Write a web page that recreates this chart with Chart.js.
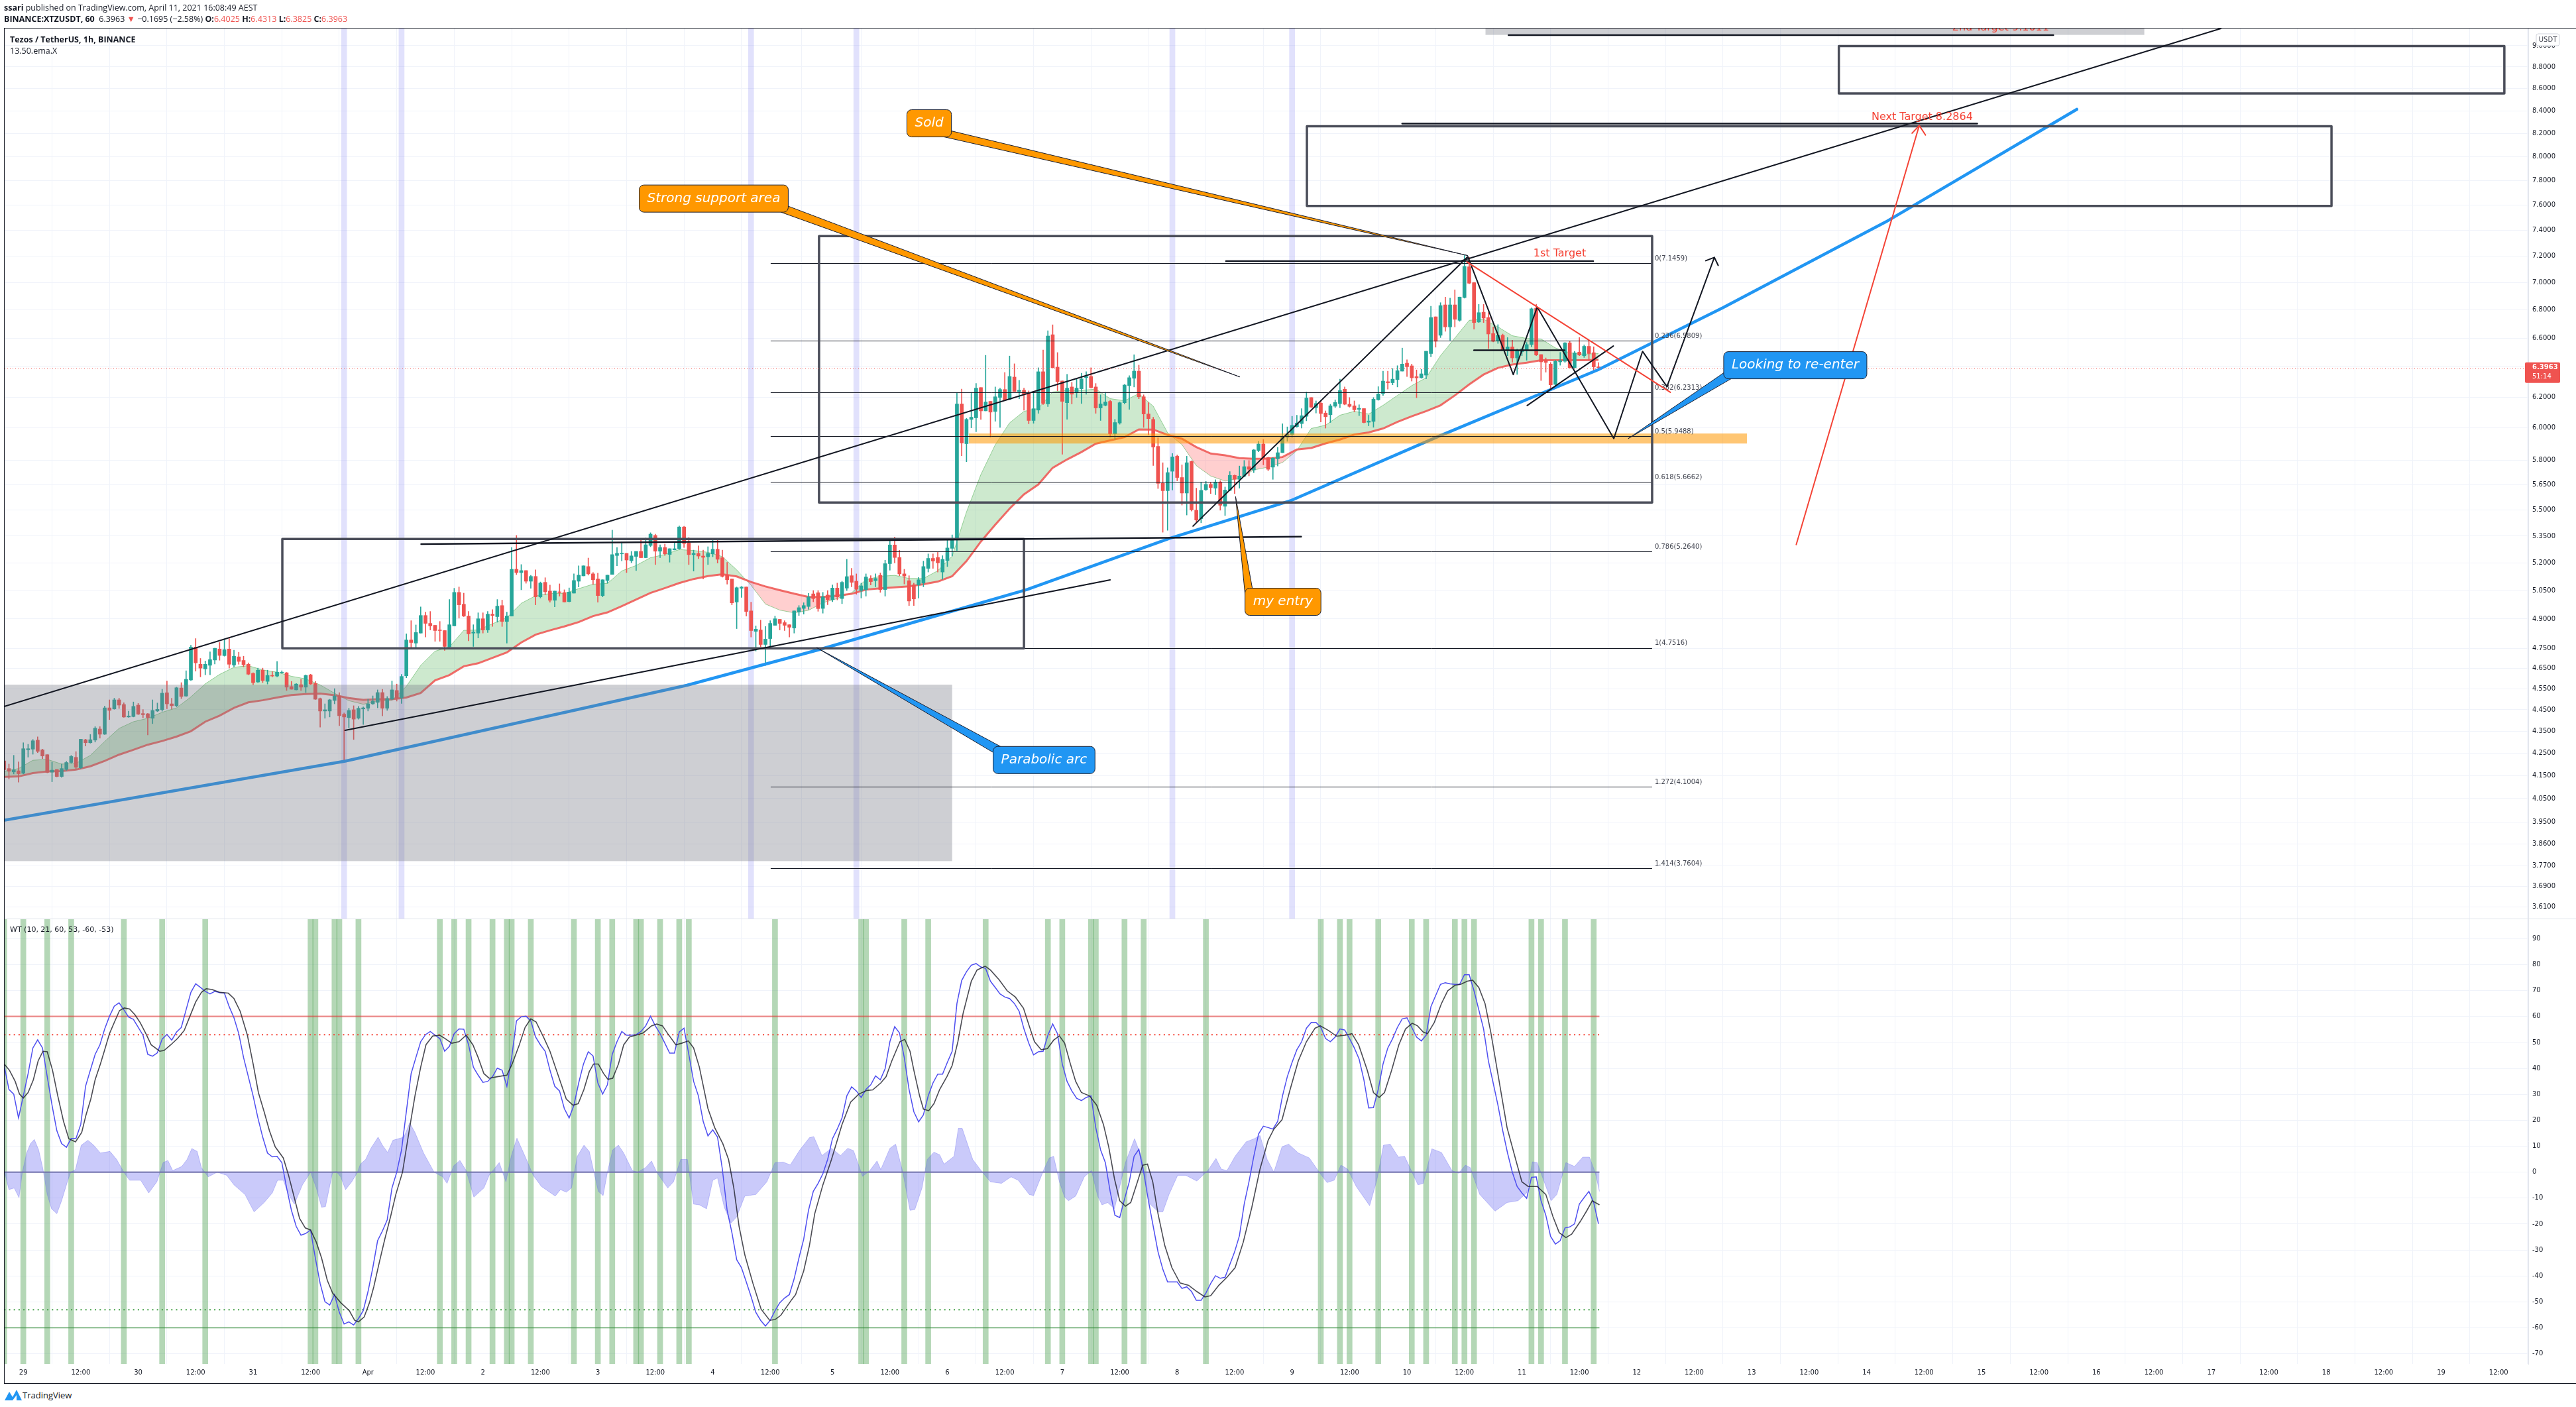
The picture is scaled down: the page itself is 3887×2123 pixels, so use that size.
<!DOCTYPE html>
<html>
<head>
<meta charset="utf-8">
<title>XTZUSDT</title>
<script src="https://cdn.jsdelivr.net/npm/chart.js@4"></script>
<style>
    html, body { margin: 0; padding: 0; background: #fff; }
    body { position: relative; width: 3887px; height: 2123px; overflow: hidden; font-family: "Open Sans", sans-serif; color: #131722; }
    canvas { position: absolute; left: 0; }
    #priceChart { top: 0; }
    #wtChart { top: 1386px; }
    #frame { position: absolute; left: 6px; top: 42px; width: 3880px; height: 2044px; border: 1px solid #131722; box-sizing: content-box; pointer-events: none; }
    .txt { position: absolute; white-space: pre; font-size: 12.5px; line-height: 16px; }
    .red { color: #ef5350; }
    b { font-weight: 700; }
</style>
</head>
<body>
<canvas id="priceChart" width="3887" height="1386"></canvas>
<canvas id="wtChart" width="3887" height="701"></canvas>
<div id="frame"></div>
<div class="txt" style="left:6px;top:4px"><b>ssari</b> published on TradingView.com, April 11, 2021 16:08:49 AEST</div>
<div class="txt" style="left:6px;top:21px"><b>BINANCE:XTZUSDT, 60</b>  6.3963 <span class="red">▼</span> −0.1695 (−2.58%) <b>O:</b><span class="red">6.4025</span> <b>H:</b><span class="red">6.4313</span> <b>L:</b><span class="red">6.3825</span> <b>C:</b><span class="red">6.3963</span></div>
<div class="txt" style="left:15px;top:52px"><b>Tezos / TetherUS, 1h, BINANCE</b></div>
<div class="txt" style="left:15px;top:69px">13.50.ema.X</div>
<svg style="position:absolute;left:7px;top:2096px" width="26" height="18" viewBox="0 0 26 18"><path d="M0 17 L7 4 L12 12 L18 1 L26 17 L18 17 L18 9 L12 17 Z" fill="#2196f3"/></svg>
<div class="txt" style="left:34px;top:2097px;font-size:13px">TradingView</div>

<script>
//Candles, one per hour, first one sits at bar -4 (bar 0 = 29 Mar 00:00)
const firstBar = -4;
const candleOpen = [
    4.215,4.181,4.166,4.171,4.160,4.265,4.268,4.309,4.265,4.243,
    4.165,4.177,4.146,4.177,4.208,4.231,4.184,4.311,4.297,4.309,
    4.360,4.336,4.459,4.454,4.497,4.475,4.416,4.418,4.472,4.432,
    4.431,4.410,4.444,4.450,4.531,4.478,4.469,4.554,4.515,4.593,
    4.756,4.670,4.647,4.665,4.691,4.746,4.713,4.746,4.666,4.707,
    4.689,4.670,4.625,4.583,4.641,4.586,4.615,4.612,4.628,4.628,
    4.561,4.545,4.570,4.558,4.618,4.576,4.503,4.444,4.444,4.494,
    4.516,4.429,4.413,4.450,4.410,4.454,4.457,4.478,4.485,4.532,
    4.457,4.500,4.542,4.506,4.613,4.792,4.776,4.827,4.918,4.877,
    4.867,4.843,4.840,4.757,4.864,5.040,4.977,4.915,4.827,4.827,
    4.901,4.843,4.925,4.912,4.970,4.887,4.915,5.165,5.147,5.158,
    5.100,5.126,5.016,5.094,5.047,4.998,5.043,5.039,4.991,5.036,
    5.100,5.129,5.180,5.140,5.112,5.023,5.104,5.137,5.241,5.250,
    5.253,5.212,5.236,5.264,5.229,5.297,5.354,5.265,5.286,5.247,
    5.272,5.279,5.402,5.312,5.246,5.253,5.238,5.234,5.250,5.276,
    5.229,5.133,5.112,4.989,5.062,5.069,4.942,4.836,4.843,4.769,
    4.799,4.867,4.898,4.881,4.870,4.853,4.936,4.955,4.965,5.032,
    5.038,4.955,5.026,5.001,5.063,5.007,5.063,5.130,5.100,5.050,
    5.055,5.115,5.103,5.132,5.055,5.196,5.300,5.230,5.140,5.103,
    5.080,5.080,5.090,5.170,5.225,5.230,5.150,5.213,5.281,5.331,
    6.155,5.901,6.055,6.065,6.263,6.110,6.172,6.106,6.198,6.250,
    6.184,6.333,6.237,6.245,6.228,6.048,6.115,6.369,6.155,6.624,
    6.400,6.307,6.163,6.267,6.228,6.255,6.329,6.337,6.267,6.129,
    6.146,6.172,5.963,6.032,6.163,6.276,6.325,6.373,6.202,6.090,
    6.055,5.884,5.658,5.614,5.731,5.823,5.693,5.600,5.791,5.499,
    5.450,5.620,5.652,5.629,5.666,5.522,5.616,5.706,5.682,5.701,
    5.759,5.739,5.858,5.899,5.815,5.756,5.807,5.845,5.941,5.958,
    6.009,6.028,6.075,6.197,6.131,6.160,6.096,6.085,6.140,6.157,
    6.252,6.153,6.143,6.120,6.125,6.037,6.042,6.182,6.223,6.302,
    6.295,6.316,6.373,6.427,6.409,6.336,6.328,6.346,6.493,6.751,
    6.620,6.837,6.679,6.837,6.726,6.890,7.119,7.000,6.714,6.784,
    6.746,6.632,6.581,6.620,6.516,6.539,6.463,6.505,6.516,6.555,
    6.813,6.486,6.447,6.421,6.284,6.436,6.440,6.567,6.397,6.503,
    6.478,6.543,6.499,6.4025
];
const candleHigh = [
    4.215,4.201,4.240,4.211,4.297,4.290,4.312,4.324,4.268,4.243,
    4.209,4.177,4.201,4.213,4.240,4.257,4.313,4.313,4.335,4.371,
    4.371,4.468,4.497,4.505,4.505,4.483,4.443,4.487,4.480,4.451,
    4.433,4.497,4.482,4.548,4.588,4.505,4.558,4.580,4.638,4.765,
    4.799,4.699,4.686,4.732,4.750,4.779,4.797,4.799,4.740,4.730,
    4.710,4.677,4.628,4.651,4.651,4.641,4.634,4.684,4.638,4.630,
    4.586,4.576,4.596,4.618,4.621,4.586,4.506,4.478,4.500,4.551,
    4.532,4.435,4.457,4.469,4.466,4.464,4.500,4.516,4.545,4.548,
    4.513,4.588,4.573,4.620,4.823,4.891,4.869,4.963,4.936,4.939,
    4.867,4.887,4.840,5.002,5.062,5.069,5.036,4.939,4.870,4.932,
    4.932,4.939,4.949,5.002,4.999,4.936,5.286,5.354,5.191,5.158,
    5.132,5.162,5.096,5.119,5.079,5.047,5.086,5.054,5.064,5.140,
    5.184,5.184,5.227,5.147,5.144,5.108,5.133,5.384,5.286,5.316,
    5.253,5.264,5.264,5.335,5.339,5.369,5.361,5.301,5.305,5.279,
    5.312,5.408,5.406,5.342,5.271,5.295,5.271,5.290,5.327,5.327,
    5.271,5.203,5.112,5.069,5.072,5.069,4.988,4.864,4.894,4.861,
    4.891,4.915,4.898,4.891,4.870,4.942,4.970,4.985,5.035,5.050,
    5.050,5.040,5.050,5.080,5.090,5.100,5.220,5.170,5.140,5.090,
    5.140,5.130,5.140,5.145,5.215,5.330,5.345,5.270,5.165,5.130,
    5.090,5.120,5.210,5.250,5.250,5.260,5.240,5.330,5.357,6.231,
    6.253,6.062,6.232,6.290,6.263,6.481,6.172,6.267,6.259,6.364,
    6.476,6.423,6.311,6.259,6.241,6.237,6.396,6.518,6.652,6.694,
    6.500,6.307,6.351,6.298,6.321,6.359,6.369,6.396,6.290,6.215,
    6.232,6.180,6.055,6.168,6.284,6.342,6.485,6.414,6.215,6.163,
    6.069,5.938,5.783,5.752,5.840,5.831,5.770,5.823,5.795,5.629,
    5.662,5.670,5.662,5.680,5.674,5.636,5.729,5.709,5.763,5.797,
    5.797,5.865,5.916,5.927,5.818,5.815,5.879,6.027,6.007,6.075,
    6.082,6.125,6.234,6.197,6.175,6.175,6.110,6.153,6.182,6.319,
    6.267,6.197,6.175,6.150,6.125,6.082,6.197,6.269,6.373,6.373,
    6.391,6.410,6.531,6.451,6.421,6.381,6.385,6.509,6.827,6.751,
    6.853,6.894,6.886,6.947,6.894,7.207,7.190,7.003,6.841,6.841,
    6.781,6.679,6.695,6.629,6.604,6.586,6.524,6.527,6.570,6.815,
    6.841,6.486,6.463,6.432,6.447,6.501,6.570,6.580,6.509,6.604,
    6.553,6.583,6.540,6.4313
];
const candleLow = [
    4.152,4.135,4.157,4.121,4.157,4.232,4.245,4.252,4.225,4.162,
    4.123,4.144,4.142,4.173,4.205,4.179,4.181,4.282,4.295,4.300,
    4.318,4.334,4.404,4.452,4.456,4.414,4.414,4.416,4.427,4.412,
    4.333,4.385,4.441,4.443,4.455,4.453,4.464,4.503,4.513,4.590,
    4.636,4.608,4.618,4.618,4.671,4.690,4.710,4.651,4.657,4.670,
    4.657,4.618,4.570,4.580,4.580,4.573,4.608,4.608,4.625,4.542,
    4.548,4.544,4.542,4.532,4.571,4.499,4.369,4.410,4.416,4.478,
    4.376,4.219,4.365,4.312,4.406,4.381,4.444,4.475,4.459,4.421,
    4.447,4.497,4.491,4.480,4.604,4.755,4.748,4.827,4.807,4.843,
    4.785,4.785,4.739,4.757,4.864,4.904,4.912,4.788,4.759,4.802,
    4.827,4.830,4.861,4.883,4.861,4.776,4.915,5.136,5.054,5.089,
    5.062,4.974,5.010,5.027,4.988,4.963,5.020,4.989,4.989,5.036,
    5.069,5.129,5.133,5.082,4.988,5.016,5.089,5.137,5.184,5.211,
    5.147,5.201,5.158,5.229,5.229,5.290,5.191,5.229,5.241,5.204,
    5.272,5.275,5.286,5.191,5.155,5.224,5.112,5.191,5.234,5.199,
    5.122,5.084,4.974,4.850,5.013,4.915,4.807,4.736,4.757,4.664,
    4.759,4.867,4.843,4.840,4.807,4.827,4.918,4.925,4.950,4.990,
    4.940,4.930,4.975,4.990,5.000,4.980,5.050,5.070,5.030,5.010,
    5.020,5.080,5.070,5.040,5.020,5.160,5.200,5.130,5.085,4.970,
    4.970,5.010,5.070,5.150,5.170,5.150,5.110,5.180,5.238,5.269,
    5.826,5.789,6.001,5.976,6.055,6.110,5.942,6.043,6.004,6.180,
    6.184,6.237,6.189,6.115,6.027,6.030,6.094,6.151,6.138,6.396,
    6.241,5.835,6.056,6.155,6.198,6.158,6.219,6.259,6.094,6.048,
    6.141,5.942,5.926,6.024,6.155,6.120,6.267,6.189,6.004,5.956,
    5.766,5.627,5.372,5.383,5.618,5.673,5.529,5.471,5.494,5.426,
    5.426,5.615,5.597,5.590,5.499,5.468,5.613,5.597,5.629,5.696,
    5.703,5.723,5.851,5.770,5.734,5.682,5.763,5.845,5.916,5.941,
    6.005,6.000,6.046,6.131,6.096,6.039,5.999,6.035,6.131,6.131,
    6.149,6.134,6.103,6.079,6.032,6.014,6.005,6.179,6.211,6.252,
    6.281,6.267,6.373,6.336,6.306,6.196,6.325,6.321,6.470,6.537,
    6.604,6.648,6.585,6.679,6.719,6.886,6.992,6.663,6.710,6.710,
    6.528,6.574,6.563,6.516,6.478,6.433,6.351,6.478,6.447,6.539,
    6.478,6.310,6.366,6.243,6.269,6.413,6.432,6.393,6.390,6.478,
    6.466,6.447,6.375,6.3825
];
const candleClose = [
    4.176,4.169,4.175,4.158,4.270,4.270,4.306,4.258,4.237,4.164,
    4.174,4.146,4.181,4.208,4.235,4.187,4.313,4.297,4.311,4.364,
    4.336,4.459,4.447,4.497,4.472,4.416,4.421,4.466,4.429,4.427,
    4.413,4.447,4.452,4.529,4.478,4.469,4.555,4.513,4.596,4.756,
    4.677,4.651,4.670,4.693,4.750,4.714,4.743,4.670,4.710,4.684,
    4.668,4.621,4.580,4.641,4.590,4.615,4.612,4.631,4.631,4.558,
    4.548,4.573,4.558,4.615,4.573,4.500,4.444,4.450,4.497,4.516,
    4.422,4.416,4.447,4.406,4.457,4.459,4.478,4.491,4.532,4.457,
    4.503,4.545,4.506,4.610,4.792,4.779,4.830,4.918,4.877,4.864,
    4.840,4.840,4.759,4.870,5.040,4.974,4.915,4.823,4.832,4.901,
    4.843,4.925,4.918,4.967,4.887,4.915,5.165,5.147,5.158,5.100,
    5.126,5.016,5.090,5.043,4.998,5.047,5.039,4.989,5.042,5.104,
    5.133,5.184,5.140,5.108,5.023,5.108,5.133,5.246,5.253,5.252,
    5.216,5.239,5.264,5.229,5.301,5.361,5.265,5.286,5.250,5.279,
    5.279,5.402,5.308,5.246,5.253,5.238,5.231,5.253,5.276,5.220,
    5.126,5.108,4.984,5.065,5.069,4.939,4.840,4.847,4.769,4.796,
    4.877,4.901,4.877,4.867,4.857,4.942,4.959,4.970,5.016,5.007,
    4.954,5.016,5.001,5.063,5.016,5.094,5.125,5.094,5.057,5.075,
    5.123,5.098,5.115,5.055,5.196,5.300,5.230,5.140,5.128,4.994,
    5.005,5.108,5.180,5.225,5.210,5.200,5.220,5.283,5.335,6.155,
    5.905,6.055,6.069,6.259,6.110,6.168,6.102,6.202,6.250,6.180,
    6.337,6.237,6.245,6.219,6.048,6.124,6.369,6.158,6.615,6.396,
    6.303,6.172,6.259,6.219,6.259,6.321,6.337,6.263,6.129,6.155,
    6.168,5.963,6.035,6.163,6.280,6.329,6.373,6.202,6.090,6.060,
    5.880,5.658,5.614,5.723,5.819,5.693,5.600,5.783,5.501,5.442,
    5.616,5.652,5.633,5.666,5.528,5.618,5.706,5.682,5.702,5.759,
    5.743,5.862,5.899,5.811,5.743,5.811,5.845,5.944,5.961,6.017,
    6.032,6.079,6.194,6.134,6.158,6.093,6.072,6.143,6.165,6.243,
    6.153,6.139,6.117,6.127,6.035,6.045,6.186,6.221,6.306,6.295,
    6.319,6.376,6.421,6.403,6.328,6.328,6.355,6.509,6.746,6.578,
    6.832,6.679,6.837,6.733,6.894,7.122,6.996,6.710,6.781,6.742,
    6.629,6.578,6.621,6.516,6.539,6.463,6.512,6.524,6.555,6.809,
    6.483,6.436,6.432,6.281,6.440,6.445,6.567,6.397,6.498,6.483,
    6.543,6.493,6.402,6.3963
];

//13/50 ema ribbon, read every third bar
const emaBars = [-4,-1,2,5,8,11,14,17,20,23,26,29,32,35,38,41,44,47,50,53,56,59,62,65,68,71,74,77,
    80,83,86,89,92,95,98,101,104,107,110,113,116,119,122,125,128,131,134,137,140,143,146,149,152,155,158,161,
    164,167,170,173,176,179,182,185,188,191,194,197,200,203,206,209,212,215,218,221,224,227,230,233,236,239,242,245,
    248,251,254,257,260,263,266,269,272,275,278,281,284,287,290,293,296,299,302,305,308,311,314,317,320,323,326,329];
const emaFast = [4.169,4.181,4.218,4.222,4.201,4.204,4.240,4.303,4.363,4.394,4.410,4.438,4.459,4.511,4.574,4.620,4.655,4.663,4.642,4.631,4.611,4.598,4.569,4.529,4.493,4.476,4.490,4.495,
    4.562,4.664,4.735,4.757,4.841,4.843,4.875,4.907,4.982,5.022,5.034,5.034,5.060,5.084,5.088,5.156,5.186,5.229,5.247,5.274,5.269,5.259,5.235,5.162,5.078,4.978,4.946,4.932,
    4.945,4.985,5.007,5.038,5.108,5.127,5.132,5.115,5.115,5.157,5.237,5.489,5.711,5.894,6.033,6.107,6.126,6.234,6.244,6.244,6.253,6.190,6.176,6.223,6.140,5.970,5.895,5.765,
    5.702,5.672,5.689,5.739,5.756,5.784,5.858,5.997,6.018,6.082,6.107,6.089,6.146,6.211,6.276,6.328,6.478,6.601,6.726,6.734,6.679,6.617,6.598,6.594,6.532,6.498,6.489,6.493];
const emaSlow = [4.144,4.146,4.161,4.168,4.170,4.176,4.191,4.215,4.243,4.265,4.288,4.305,4.325,4.350,4.394,4.422,4.459,4.485,4.495,4.508,4.520,4.525,4.527,4.519,4.506,4.497,4.500,4.500,
    4.508,4.530,4.591,4.617,4.660,4.675,4.702,4.729,4.779,4.819,4.841,4.861,4.884,4.915,4.934,4.967,5.002,5.037,5.063,5.090,5.112,5.128,5.138,5.126,5.096,5.072,5.052,5.033,
    5.016,5.016,5.023,5.032,5.055,5.062,5.067,5.072,5.084,5.098,5.127,5.210,5.319,5.415,5.508,5.592,5.651,5.752,5.803,5.849,5.901,5.922,5.942,5.991,5.990,5.956,5.932,5.880,
    5.840,5.829,5.811,5.807,5.808,5.818,5.865,5.874,5.903,5.927,5.958,5.972,5.997,6.039,6.075,6.108,6.146,6.211,6.284,6.350,6.395,6.418,6.430,6.447,6.447,6.447,6.447,6.450];

//WaveTrend pane
const wt1Values = [41.1,31.9,30.1,20.9,29.4,38,47.9,51,47.9,36.8,25.8,16,11,9.6,13,13,18.4,33.1,39.3,45.4,49.1,55.2,60.1,64,65.3,62.6,59.8,58.9,55.8,52.8,
    45.4,44.7,46,51.3,53.1,50.9,54,55.8,62.6,69.3,72.6,71.2,69.7,68.7,69.7,69.2,69,63.8,59.5,53.4,44.2,36.8,29.4,20.9,13.5,7.4,5.9,6.1,3.7,-6.1,
    -14.7,-20.9,-24.3,-23.6,-22.3,-33.1,-42.9,-49.9,-51.2,-47.2,-54,-58.5,-57.7,-58.9,-56.4,-53.4,-46,-36.8,-26.4,-22.7,-18.4,-6.1,0,8.6,23.3,38,44.2,50.3,53,54.2,
    52.8,51.5,46.6,48.5,53.4,55.2,55.1,49.1,40.5,37.4,34.6,35,36.8,40.1,39.3,33.1,44.2,58.3,59.9,60.1,58.3,52.1,49.1,46.6,39.3,33.1,31.3,24.5,20.9,25.8,
    34.4,41.7,46.4,44.8,34.4,30.1,33.7,45.4,50.3,54.2,52.8,52.8,53,54.2,56.4,60.1,56.4,53.4,49.7,45.9,45.9,54,55.5,45.4,35,29.4,19.6,14,16.3,13.5,
    1.2,-14.7,-23.3,-33.7,-36.8,-42.3,-47.9,-54,-57.1,-59.3,-57.1,-53.4,-50.3,-48.5,-47.2,-41.1,-33.1,-25.8,-14.7,-7.4,-4.3,-0.6,4.9,12.9,16.6,20.9,29.4,32.9,31.3,28.8,
    31.9,33.7,37.1,35.6,39.9,50.3,56.1,53.7,44.2,31.9,23.3,19.4,22.1,29.4,34.4,37.8,37.8,42.3,46.6,65,73.9,77.3,79.8,80.4,79.1,78.5,73.6,71.2,68.7,67.5,
    66.9,65,62,55.2,49.7,45.2,46.4,46.6,52.8,57.1,53.4,41.7,35,31.3,28.5,27.6,28.8,29.4,17.2,8.6,3.7,-7.4,-16.6,-17.5,-10.4,-3.7,6.1,8.8,0,-11,
    -20.9,-30.7,-37.4,-42.3,-42.3,-42.3,-44.8,-44.2,-46,-49.4,-49.4,-46.6,-42.9,-39.9,-40.9,-40.5,-35.6,-30.7,-24.5,-12.3,-3.7,6.1,14.7,17.7,17.2,16.6,19.6,29.4,36.8,42.3,
    47.2,50.3,55.5,57.7,57.7,55.8,51.5,50.3,52.1,55.2,54.8,51.5,47.9,43.6,35.6,24.8,24.9,31.9,41.7,47.9,51.5,55.8,59.1,59.5,55.8,52.1,50.6,52.8,63.8,68.1,
    72.4,73,72.6,72.4,72.4,76.1,76.1,69.9,62.6,55.2,42.9,34.4,25.8,16,7.4,0,-5.5,-8,-10.1,-2,-1.8,-11,-16.6,-24.8,-27.7,-26.4,-21.5,-21.1,-19.9,-12.3,
    -9.8,-7.4,-11.7,-19.9];
const wt2Bars = [-3.9,-2.9,-1.7,-0.8,0,1,2.1,3.1,4.1,5,6.1,7.2,8.4,9.5,10.9,12.2,13.1,14.1,15,16.1,17,18,19,20.1,21.1,22.2,23.3,24.4,25.6,26.7,28.5,29.4,30.8,32.2,33.6,34.8,36,37.2,38.2,39.4,41.1,42.8,44,45.3,46.8,48,49.1,50.3,51.4,52.6,54.3,55.4,56.6,57.7,58.9,60,61.2,62.3,63.5,64.6,66.3,68.1,69.2,70,71.2,72.3,73.2,74.4,75.5,76.7,77.8,79.2,80.7,81.8,83,84.1,85.5,87,88.1,89.5,91,92.5,93.9,95,96.2,97.3,99,101,102.1,103.6,104.8,106,107.1,108.8,110,111.7,113.4,114.8,115.9,117.1,118.2,119.1,120.1,121.2,122.1,123.1,124.3,125.4,126.6,128.3,129.5,131.2,132.3,133.5,134.6,136.3,137.5,138.9,140,141.2,143,144.4,146.1,147.3,148.4,149.5,150.7,152.4,154.1,155.9,157,158.2,160.5,
    161.3,163,164.2,165.3,167,168.8,171,172.8,174.5,176.2,177.4,179.1,180.2,181.4,183.1,184.1,185.2,186,187.2,188,189.1,190.2,191.4,192.9,194,195.2,196.3,198,199.2,200.9,202,203.8,205.5,207.2,208.9,210.1,211.2,212.6,213.9,215.2,216.4,217.5,218.7,219.8,221,222.7,224.2,225.6,226.7,227.9,229,230.2,231.3,232.7,233.8,234.8,235.9,237,238.4,239.9,241.6,243.4,245.1,246.8,248,249.7,251.4,253.1,254.8,256.6,258.3,260,261.2,262.9,264.6,266.3,268,269.8,270.9,272.6,274.3,276.1,277.5,278.9,280.7,282,283.2,284.3,285.8,287.3,288.7,290.1,291.2,292.4,293.3,294.7,296.2,297.5,299,300.2,301.6,302.7,304,305.3,306.5,308.2,309.9,311.7,313,314.3,316.2,318,319.5,320.8,322.2,323.4,325.2,326.6,327.7,329.2];
const wt2Values = [41.5,39.3,35,30.1,28.6,30.7,35.6,42.9,46.6,46.4,39.3,29.4,19.6,12.9,11.7,15.3,22.1,28.2,35.6,41.7,47.2,53.4,57.7,62.3,63.3,62.9,60.7,57.7,53.4,49.1,46.6,46.9,49.1,51.5,54.6,60.1,65.6,69.3,70.7,70.4,69.3,69,66.9,62,52.8,41.7,30.7,23.3,16,9.8,5.5,-1.2,-9.8,-17.8,-21.5,-22.3,-27,-33.1,-41.7,-46.6,-50.3,-53.4,-57.1,-57.7,-55.8,-50.3,-44.2,-34.4,-25.8,-17.2,-8.6,0,17.2,29.4,40.5,49.1,52.5,52.8,51.5,49.7,50.3,52.8,49.1,44.2,38,36.2,36.8,37.4,41.7,49.1,55.8,59.1,57.9,51.5,46.6,37.4,28.2,25.8,26.4,31.9,38.7,41.7,41.7,38,35.8,36.2,41.7,49.1,52.1,53,53.7,56.4,57.1,56.4,53.4,49.1,49.7,50.6,47.9,40.5,24.5,17.2,11,4.9,-6.1,-20.9,-31.9,-42.9,-52.8,-57.1,-56.8,-55.2,-49.1,
    -47.2,-38,-28.2,-16,-4.9,4.9,18.4,27,30.1,31.5,31.7,34.4,36.8,42.9,50.3,51.2,46.6,39.3,29.4,24.3,23.7,26.4,31.9,36.8,41.1,50.3,61.3,73.6,77.9,79.4,77.9,74.2,69.9,67.5,63.2,56.4,50.3,47.2,47.6,50.9,52.5,49.7,41.7,35,30.7,29.4,25.8,18.4,9.8,-2.5,-11,-13.1,-11.7,-3.7,2.7,3.1,-3.7,-16,-28.2,-36.8,-42.7,-43.6,-46,-48.1,-47.6,-43.6,-40.5,-36.8,-27,-13.5,1.2,12.3,16.6,20.2,31.9,42.9,50.3,55.5,56.4,54.6,52.4,52.8,53.4,49.1,39.3,30.7,28.8,30.7,39.3,49.1,55.2,57.4,56.4,54,53.4,57.7,65,69.9,72,72.4,73.6,74,71.2,65,54,35.6,17.2,4.9,-3.7,-5.5,-5.5,-8.6,-17.2,-23.3,-25.2,-23.9,-19,-14.7,-11,-12.6];
const histBars = [-3.9,-3,-1.9,-0.9,-0.2,0.7,1.5,2.3,3.2,4.1,5,5.9,7,8,9.2,9.9,10.9,12.1,13.5,14.7,16.1,18.1,19.5,21,22.2,24.5,26.2,27.9,29.2,30.2,31.2,33.1,34.2,35.2,36.3,37.2,38.6,40.5,42.5,44,46.3,48.2,50.3,52,53.1,54.3,55.4,56.6,58.3,60,61.2,62.3,63.1,64.6,65.4,66.3,67.3,68.6,69.8,70.4,71.5,72.6,74.1,75,76.1,77.2,79.5,80.7,81.8,83.6,85.8,87.6,88.5,89.9,91.2,92.5,94.1,96.2,97.3,99.4,100.8,101.9,103.1,104.8,106.5,108.2,111.1,112.2,113.4,114.5,115.7,117.1,118.2,120.1,121.1,122,123.1,124.3,125.4,127.2,128.3,130,131.2,132.3,134.6,135.8,137.3,138.7,140,141.2,142.7,144,145,146.4,147.8,149,150.7,153,155.3,157,158.7,160.2,162.2,
    164.2,165.1,166.8,168.8,170.7,172.2,173.4,175.3,176.8,178.3,179.1,181,182.2,183.7,185.2,186.2,187.7,188.8,190.2,191.4,192.3,194.4,195.3,196.1,198.3,200.3,202,204.3,206.3,207.8,210.1,211,213.2,214.3,215.2,216.4,217.5,218.3,219.8,221.6,223.1,224.4,225.3,226.5,227.9,230.2,232.1,233.6,235.3,237.1,238,239.3,241.1,242.8,245.1,247.4,249.1,250.2,251.4,253.1,255.4,257.1,258.3,259.8,261.2,262.9,264.3,266.3,268.6,270.9,272.3,273.8,275.2,276.6,278.4,281.2,282.7,284.1,285.5,287.2,288.5,291.3,292.4,294.2,296.2,298.4,299.8,301.2,302.2,304.2,307.4,309.9,312.2,314,315.2,316.2,319.1,320.3,322.2,324,325.7,327.1,328.3,329.2];
const histValues = [0,-6.7,-6.1,-9.8,0,7.4,11,12.6,8.6,1.2,-8.6,-14.1,-16,-11,-3.7,0,1,10.4,12.3,10.4,7.4,8,4.9,0,-3.1,-3.1,-8,-3.7,3.7,4.5,0.6,2.2,4.9,9.1,8,1.8,-1.8,0,-1.2,-4.9,-8.6,-15.3,-11.7,-8,-3.1,-3.1,-8.6,-12.3,-4.9,0,-6.1,-13.5,-13.3,0,0.2,-1.8,-6.7,-3.7,0,3.1,4.9,9.2,13.5,10.4,7.6,12.3,13.5,19,15.3,7.4,0,-1.8,-4.3,2.5,4.5,0.6,-9.6,-6.1,-1.2,3.7,-3.7,6.1,13.1,6.1,-1.2,-5.5,-9.2,-6.7,-7.7,-6.1,6.1,10.4,8,-7.4,-9,0,8.6,10.4,7.4,0.6,0,1.8,4.3,0,-6.1,-3.7,4.9,4.9,-12.3,-12.6,-14.1,-3.1,-2.2,-13.5,-19.6,-17.2,-9.2,-8.6,-3.7,3.7,3.9,2.8,8.6,
    13.3,13.7,6.4,9.2,6.4,9.2,8.3,-1.6,0.6,4.3,1,9.2,10.8,0,-14.7,-14.4,-6.1,4.9,7.7,6.7,3.1,6.1,16.9,16.9,4.9,0,-3.7,-4.3,-1.8,-3.1,-8.6,-9,1.2,5.5,6.1,-3.7,-9.6,-11,-9.2,-1.8,0.6,-9.2,-12.6,-11.7,-14.1,3.7,12.9,5.5,-12.3,-15.3,-15.3,-8.6,-1.2,-1.2,-3.4,0.6,5.3,1.2,0.6,6.1,11.7,12.9,14.1,4.9,0,9.8,10.8,7.4,5.5,-0.6,-4,-3.1,2.7,1.2,-5.5,-12.9,-3.1,10.4,10.8,5.8,6.1,-4.9,-4.3,9,7.6,0.6,-0.4,2.7,1.8,-8.6,-15,-11.7,-11,-8,4,3.7,-11,-8.6,3.7,2.2,5.8,5.8,0,-7.4];
const wtLevels = [60, 53, 0, -53, -60];
const wtSignalBars = [-4,0,5,10,21,29,38,60,61,65,66,70,87,90,93,98,101,102,106,115,120,123,128,129,133,137,139,157,
    175,176,184,189,201,214,217,223,224,230,234,247,271,275,277,283,290,293,299,301,303,315,317,322,328];
const sessionBars = [67, 79, 152, 174, 240, 265];

//axes
const priceMin = 3.566;
const priceMax = 9.166;
const wtMin = -73.9;
const wtMax = 97.75;
const barMin = -3.9;
const barMax = 523.2;
const priceTicks = [9,8.8,8.6,8.4,8.2,8,7.8,7.6,7.4,7.2,7,6.8,6.6,6.4,6.2,6,5.8,5.65,5.5,5.35,5.2,5.05,4.9,4.75,4.65,4.55,4.45,4.35,4.25,4.15,4.05,3.95,3.86,3.77,3.69,3.61];
const wtTicks = [90,80,70,60,50,40,30,20,10,0,-10,-20,-30,-40,-50,-60,-70];
const timeTickBars = [0,12,24,36,48,60,72,84,96,108,120,132,144,156,169,181,193,205,217,229,241,253,265,277,289,301,313,325,337,349,361,373,385,397,409,421,433,445,457,469,481,493,505,517];
const timeTickLabels = ['29','12:00','30','12:00','31','12:00','Apr','12:00','2','12:00','3','12:00','4','12:00','5','12:00','6','12:00','7','12:00','8','12:00','9','12:00','10','12:00','11','12:00','12','12:00','13','12:00','14','12:00','15','12:00','16','12:00','17','12:00','18','12:00','19','12:00'];

//drawings, all as [bar, price]
const lastPrice = 6.3963;
const fibStart = 156.1;
const fibEnd = 340.2;
const fibRatios = ['0','0.236','0.382','0.5','0.618','0.786','1','1.272','1.414'];
const fibPrices = [7.1459,6.5809,6.2313,5.9488,5.6662,5.2640,4.7516,4.1004,3.7604];
const blueArc = [[-3.9,3.958],[67.2,4.214],[138.6,4.567],[166.2,4.743],[193.5,4.937],[209.6,5.055],[239.3,5.336],[264.6,5.554],[295.6,5.947],[328.9,6.382],[355,6.817],[389,7.466],[428.9,8.413]];
const greyZones = [[[-3.9,4.57],[194,3.79]], [[305.4,9.4],[443,9.104]]];
const orangeZones = [[[197.5,5.965],[360,5.902]]];
const darkBoxes = [[[54.1,5.334],[209,4.75]], [[166.2,7.354],[340.2,5.544]], [[268.1,8.263],[482.1,7.594]], [[379.2,8.997],[518.2,8.556]]];
const thinBlackLines = [
    [[-3.9,4.466],[459,9.166]],
    [[67.2,4.354],[227,5.107]],
    [[244.3,5.407],[301.7,7.196],[311.2,6.35],[316.2,6.821],[332.2,5.933],[338.2,6.508],[343.3,6.269],[353.2,7.19]],
    [[351.4,7.165],[353.2,7.19],[354,7.129]],
    [[314.1,6.145],[332.1,6.545]]
];
const targetLines = [
    [[83.1,5.305],[266.9,5.347]],
    [[251.2,7.162],[327.9,7.162]],
    [[288,8.2864],[408.1,8.2864]],
    [[310.2,9.1011],[424,9.1011]],
    [[303,6.516],[321.9,6.516]]
];
const redLines = [
    [[301.5,7.156],[344,6.232]],
    [[370.3,5.302],[396,8.27]],
    [[394.5,8.203],[396,8.27],[397.3,8.187]]
];
const targetTexts = ['1st Target', 'Next Target 8.2864', '2nd Target 9.1011'];
const targetTextAt = [[320.9,7.196],[396.6,8.318],[413,9.147]];
const calloutTexts = ['Sold', 'Strong support area', 'my entry', 'Parabolic arc', 'Looking to re-enter'];
const calloutAt = [[189.2,8.289],[144.2,7.653],[263.1,4.99],[213.2,4.219],[370.1,6.413]];
const calloutTips = [[301.7,7.204],[254.1,6.334],[253.2,5.579],[165.7,4.753],[335.2,5.933]];
const calloutColors = ['#ff9800','#ff9800','#ff9800','#2196f3','#2196f3'];

const UP = '#26a69a';
const DOWN = '#ef5350';
const FONT = '"DejaVu Sans"';
const GRID = '#f0f3fa';

//Candle datasets
const candleColors = candleOpen.map((o, i) => candleClose[i] >= o ? UP : DOWN);
const wickData = candleOpen.map((o, i) => ({ x: firstBar + i, y: [candleLow[i], candleHigh[i]] }));
const bodyData = candleOpen.map((o, i) => ({ x: firstBar + i, y: [o, candleClose[i]] }));

function drawPolyline(ctx, chart, points, snap) {
    const { x, y } = chart.scales;
    ctx.beginPath();
    points.forEach((p, i) => {
        const px = x.getPixelForValue(p[0]);
        let py = y.getPixelForValue(p[1]);
        if (snap) py = Math.round(py) + 0.5;
        if (i === 0) ctx.moveTo(px, py); else ctx.lineTo(px, py);
    });
    ctx.stroke();
}

function zoneRect(chart, zone) {
    const { x, y } = chart.scales;
    const x1 = x.getPixelForValue(zone[0][0]);
    const x2 = x.getPixelForValue(zone[1][0]);
    const y1 = y.getPixelForValue(zone[0][1]);
    const y2 = y.getPixelForValue(zone[1][1]);
    return [x1, y1, x2 - x1, y2 - y1];
}

function drawCallout(ctx, chart, i) {
    const { x, y } = chart.scales;
    ctx.font = 'italic 20px ' + FONT;
    const w = ctx.measureText(calloutTexts[i]).width + 24;
    const h = 41;
    const cx = x.getPixelForValue(calloutAt[i][0]);
    const cy = y.getPixelForValue(calloutAt[i][1]);
    const tx = x.getPixelForValue(calloutTips[i][0]);
    const ty = y.getPixelForValue(calloutTips[i][1]);
    const sx = tx > cx ? 1 : -1;
    const sy = ty > cy ? 1 : -1;
    const cornerX = cx + sx * w / 2;
    const cornerY = cy + sy * h / 2;
    ctx.fillStyle = calloutColors[i];
    ctx.strokeStyle = '#1c2030';
    ctx.lineWidth = 1;
    ctx.beginPath();
    ctx.moveTo(cornerX - sx * 11, cornerY);
    ctx.lineTo(tx, ty);
    ctx.lineTo(cornerX, cornerY - sy * 9);
    ctx.closePath();
    ctx.fill();
    ctx.stroke();
    ctx.beginPath();
    ctx.roundRect(cx - w / 2, cy - h / 2, w, h, 7);
    ctx.fill();
    ctx.stroke();
    ctx.fillStyle = '#fff';
    ctx.textAlign = 'center';
    ctx.textBaseline = 'middle';
    ctx.fillText(calloutTexts[i], cx, cy);
}

const drawingsPlugin = {
    id: 'drawings',
    afterDatasetsDraw(chart) {
        const { ctx, chartArea, scales } = chart;
        const { x, y } = scales;
        ctx.save();
        ctx.beginPath();
        ctx.rect(chartArea.left, chartArea.top, chartArea.width, chartArea.height);
        ctx.clip();
        ctx.lineCap = 'round';
        ctx.lineJoin = 'round';

        ctx.strokeStyle = '#2196f3';
        ctx.lineWidth = 4.5;
        drawPolyline(ctx, chart, blueArc);

        ctx.fillStyle = 'rgba(120,123,134,0.36)';
        greyZones.forEach(z => ctx.fillRect(...zoneRect(chart, z)));
        ctx.fillStyle = 'rgba(255,152,0,0.55)';
        orangeZones.forEach(z => ctx.fillRect(...zoneRect(chart, z)));

        //fib levels
        ctx.strokeStyle = '#131722';
        ctx.lineWidth = 1;
        ctx.lineCap = 'butt';
        ctx.font = '10px ' + FONT;
        ctx.textAlign = 'left';
        ctx.textBaseline = 'middle';
        fibPrices.forEach((p, i) => {
            drawPolyline(ctx, chart, [[fibStart, p], [fibEnd, p]], true);
            ctx.fillStyle = '#434651';
            ctx.fillText(fibRatios[i] + '(' + p.toFixed(4) + ')', x.getPixelForValue(fibEnd) + 4, y.getPixelForValue(p) - 7);
        });
        ctx.lineCap = 'round';

        ctx.strokeStyle = '#4a4d59';
        ctx.lineWidth = 3.5;
        darkBoxes.forEach(b => ctx.strokeRect(...zoneRect(chart, b)));

        ctx.strokeStyle = '#131722';
        ctx.lineWidth = 2;
        thinBlackLines.forEach(l => drawPolyline(ctx, chart, l));
        ctx.lineWidth = 2.5;
        targetLines.forEach(l => drawPolyline(ctx, chart, l));
        ctx.strokeStyle = '#f44336';
        ctx.lineWidth = 2;
        redLines.forEach(l => drawPolyline(ctx, chart, l));

        ctx.lineCap = 'butt';
        ctx.setLineDash([1, 3]);
        ctx.lineWidth = 1;
        ctx.strokeStyle = '#ef5350';
        drawPolyline(ctx, chart, [[barMin, lastPrice], [barMax, lastPrice]], true);
        ctx.setLineDash([]);

        ctx.font = '16px ' + FONT;
        ctx.fillStyle = '#f44336';
        ctx.textAlign = 'center';
        ctx.textBaseline = 'alphabetic';
        targetTexts.forEach((t, i) => ctx.fillText(t, x.getPixelForValue(targetTextAt[i][0]), y.getPixelForValue(targetTextAt[i][1])));

        calloutTexts.forEach((t, i) => drawCallout(ctx, chart, i));
        ctx.restore();

        //last price tag and currency box on the axis
        const tagY = y.getPixelForValue(lastPrice);
        ctx.save();
        ctx.fillStyle = '#ef5350';
        ctx.beginPath();
        ctx.roundRect(chartArea.right - 5, tagY - 8, 53, 31, 2);
        ctx.fill();
        ctx.fillStyle = '#fff';
        ctx.font = 'bold 10px ' + FONT;
        ctx.textAlign = 'left';
        ctx.textBaseline = 'middle';
        ctx.fillText(lastPrice.toFixed(4), chartArea.right + 6, tagY);
        ctx.font = '10px ' + FONT;
        ctx.fillText('51:14', chartArea.right + 6, tagY + 14);
        ctx.fillStyle = '#fff';
        ctx.strokeStyle = '#d1d4dc';
        ctx.beginPath();
        ctx.roundRect(chartArea.right + 12, 51, 35, 18, 3);
        ctx.fill();
        ctx.stroke();
        ctx.fillStyle = '#434651';
        ctx.textAlign = 'center';
        ctx.fillText('USDT', chartArea.right + 29.5, 60);
        ctx.restore();
    }
};

function xAxis(showLabels) {
    return {
        type: 'linear',
        min: barMin,
        max: barMax,
        offset: false,
        afterBuildTicks: scale => { scale.ticks = timeTickBars.map(v => ({ value: v })); },
        afterFit: scale => {
            scale.height = showLabels ? 29 : 0;
            scale.paddingLeft = 0;
            scale.paddingRight = 0;
        },
        border: { display: false },
        grid: { color: GRID, drawTicks: false },
        ticks: {
            display: showLabels,
            autoSkip: false,
            maxRotation: 0,
            padding: 7,
            color: '#131722',
            font: { family: FONT, size: 10 },
            callback: value => timeTickLabels[timeTickBars.indexOf(value)]
        }
    };
}

function yAxis(type, min, max, tickValues, digits) {
    return {
        type: type,
        position: 'right',
        min: min,
        max: max,
        afterBuildTicks: scale => { scale.ticks = tickValues.map(v => ({ value: v })); },
        afterFit: scale => {
            scale.width = 72;
            scale.paddingTop = 0;
            scale.paddingBottom = 0;
        },
        border: { display: true, color: '#e0e3eb' },
        grid: { color: GRID, drawTicks: false },
        ticks: {
            autoSkip: false,
            padding: 6,
            color: '#131722',
            font: { family: FONT, size: 10 },
            callback: value => value.toFixed(digits)
        }
    };
}

//Price Chart Render
const priceChart = new Chart(document.getElementById('priceChart'), {
    type: 'bar',
    data: {
        datasets: [
            {
                data: bodyData,
                backgroundColor: candleColors,
                barThickness: 5,
                minBarLength: 1,
                grouped: false,
                order: 1
            },
            {
                data: wickData,
                backgroundColor: candleColors,
                barThickness: 1,
                grouped: false,
                order: 2
            },
            {
                type: 'line',
                data: emaBars.map((b, i) => ({ x: b, y: emaSlow[i] })),
                borderColor: 'rgba(239,83,80,0.85)',
                borderWidth: 3,
                pointRadius: 0,
                order: 3
            },
            {
                type: 'line',
                data: emaBars.map((b, i) => ({ x: b, y: emaFast[i] })),
                borderColor: 'rgba(76,175,80,0.55)',
                borderWidth: 1,
                pointRadius: 0,
                fill: { target: 2, above: 'rgba(76,175,80,0.28)', below: 'rgba(255,82,82,0.28)' },
                order: 4
            },
            {
                data: sessionBars.map(b => ({ x: b, y: [priceMin, priceMax] })),
                backgroundColor: 'rgba(98,98,240,0.19)',
                barThickness: 8,
                grouped: false,
                order: 5
            }
        ]
    },
    options: {
        responsive: false,
        animation: false,
        devicePixelRatio: 1,
        layout: { padding: { left: 7, top: 43, right: 0, bottom: 0 } },
        plugins: { legend: { display: false }, tooltip: { enabled: false } },
        scales: {
            x: xAxis(false),
            y: yAxis('logarithmic', priceMin, priceMax, priceTicks, 4)
        }
    },
    plugins: [drawingsPlugin]
});

//WT Chart Render
const levelColors = ['rgba(229,57,53,0.55)', '#f44336', 'rgba(110,110,170,0.75)', '#43a047', 'rgba(56,142,60,0.75)'];
const levelDash = [[], [2, 5.2], [], [2, 5.2], []];
const levelWidth = [2.5, 2, 2.5, 2, 1.5];
const wtChart = new Chart(document.getElementById('wtChart'), {
    type: 'bar',
    data: {
        datasets: [
            {
                type: 'line',
                data: wt2Bars.map((b, i) => ({ x: b, y: wt2Values[i] })),
                borderColor: 'rgba(30,30,40,0.8)',
                borderWidth: 1.6,
                pointRadius: 0,
                order: 1
            },
            {
                type: 'line',
                data: wt1Values.map((v, i) => ({ x: firstBar + i, y: v })),
                borderColor: '#4f4ff0',
                borderWidth: 1.5,
                pointRadius: 0,
                order: 2
            },
            ...wtLevels.map((level, i) => ({
                type: 'line',
                data: [{ x: firstBar, y: level }, { x: 329.2, y: level }],
                borderColor: levelColors[i],
                borderWidth: levelWidth[i],
                borderDash: levelDash[i],
                pointRadius: 0,
                order: 3
            })),
            {
                type: 'line',
                data: histBars.map((b, i) => ({ x: b, y: histValues[i] })),
                borderColor: 'rgba(102,102,240,0.35)',
                borderWidth: 1,
                pointRadius: 0,
                fill: { value: 0 },
                backgroundColor: 'rgba(102,102,240,0.35)',
                order: 4
            },
            {
                data: wtSignalBars.map(b => ({ x: b, y: [wtMin, wtMax] })),
                backgroundColor: 'rgba(76,160,80,0.42)',
                barThickness: 8,
                grouped: false,
                order: 5
            }
        ]
    },
    options: {
        responsive: false,
        animation: false,
        devicePixelRatio: 1,
        layout: { padding: { left: 7, top: 0, right: 0, bottom: 0 } },
        plugins: { legend: { display: false }, tooltip: { enabled: false } },
        scales: {
            x: xAxis(true),
            y: yAxis('linear', wtMin, wtMax, wtTicks, 0)
        }
    },
    plugins: [{
        id: 'wtTitle',
        afterDatasetsDraw(chart) {
            const { ctx, chartArea } = chart;
            ctx.save();
            ctx.font = '11px ' + FONT;
            ctx.fillStyle = '#131722';
            ctx.textBaseline = 'middle';
            ctx.fillText('WT (10, 21, 60, 53, -60, -53)', chartArea.left + 8, 17);
            ctx.strokeStyle = '#e0e3eb';
            ctx.beginPath();
            ctx.moveTo(chartArea.left, 0.5);
            ctx.lineTo(chart.width, 0.5);
            ctx.stroke();
            ctx.restore();
        }
    }]
});
</script>
</body>
</html>
